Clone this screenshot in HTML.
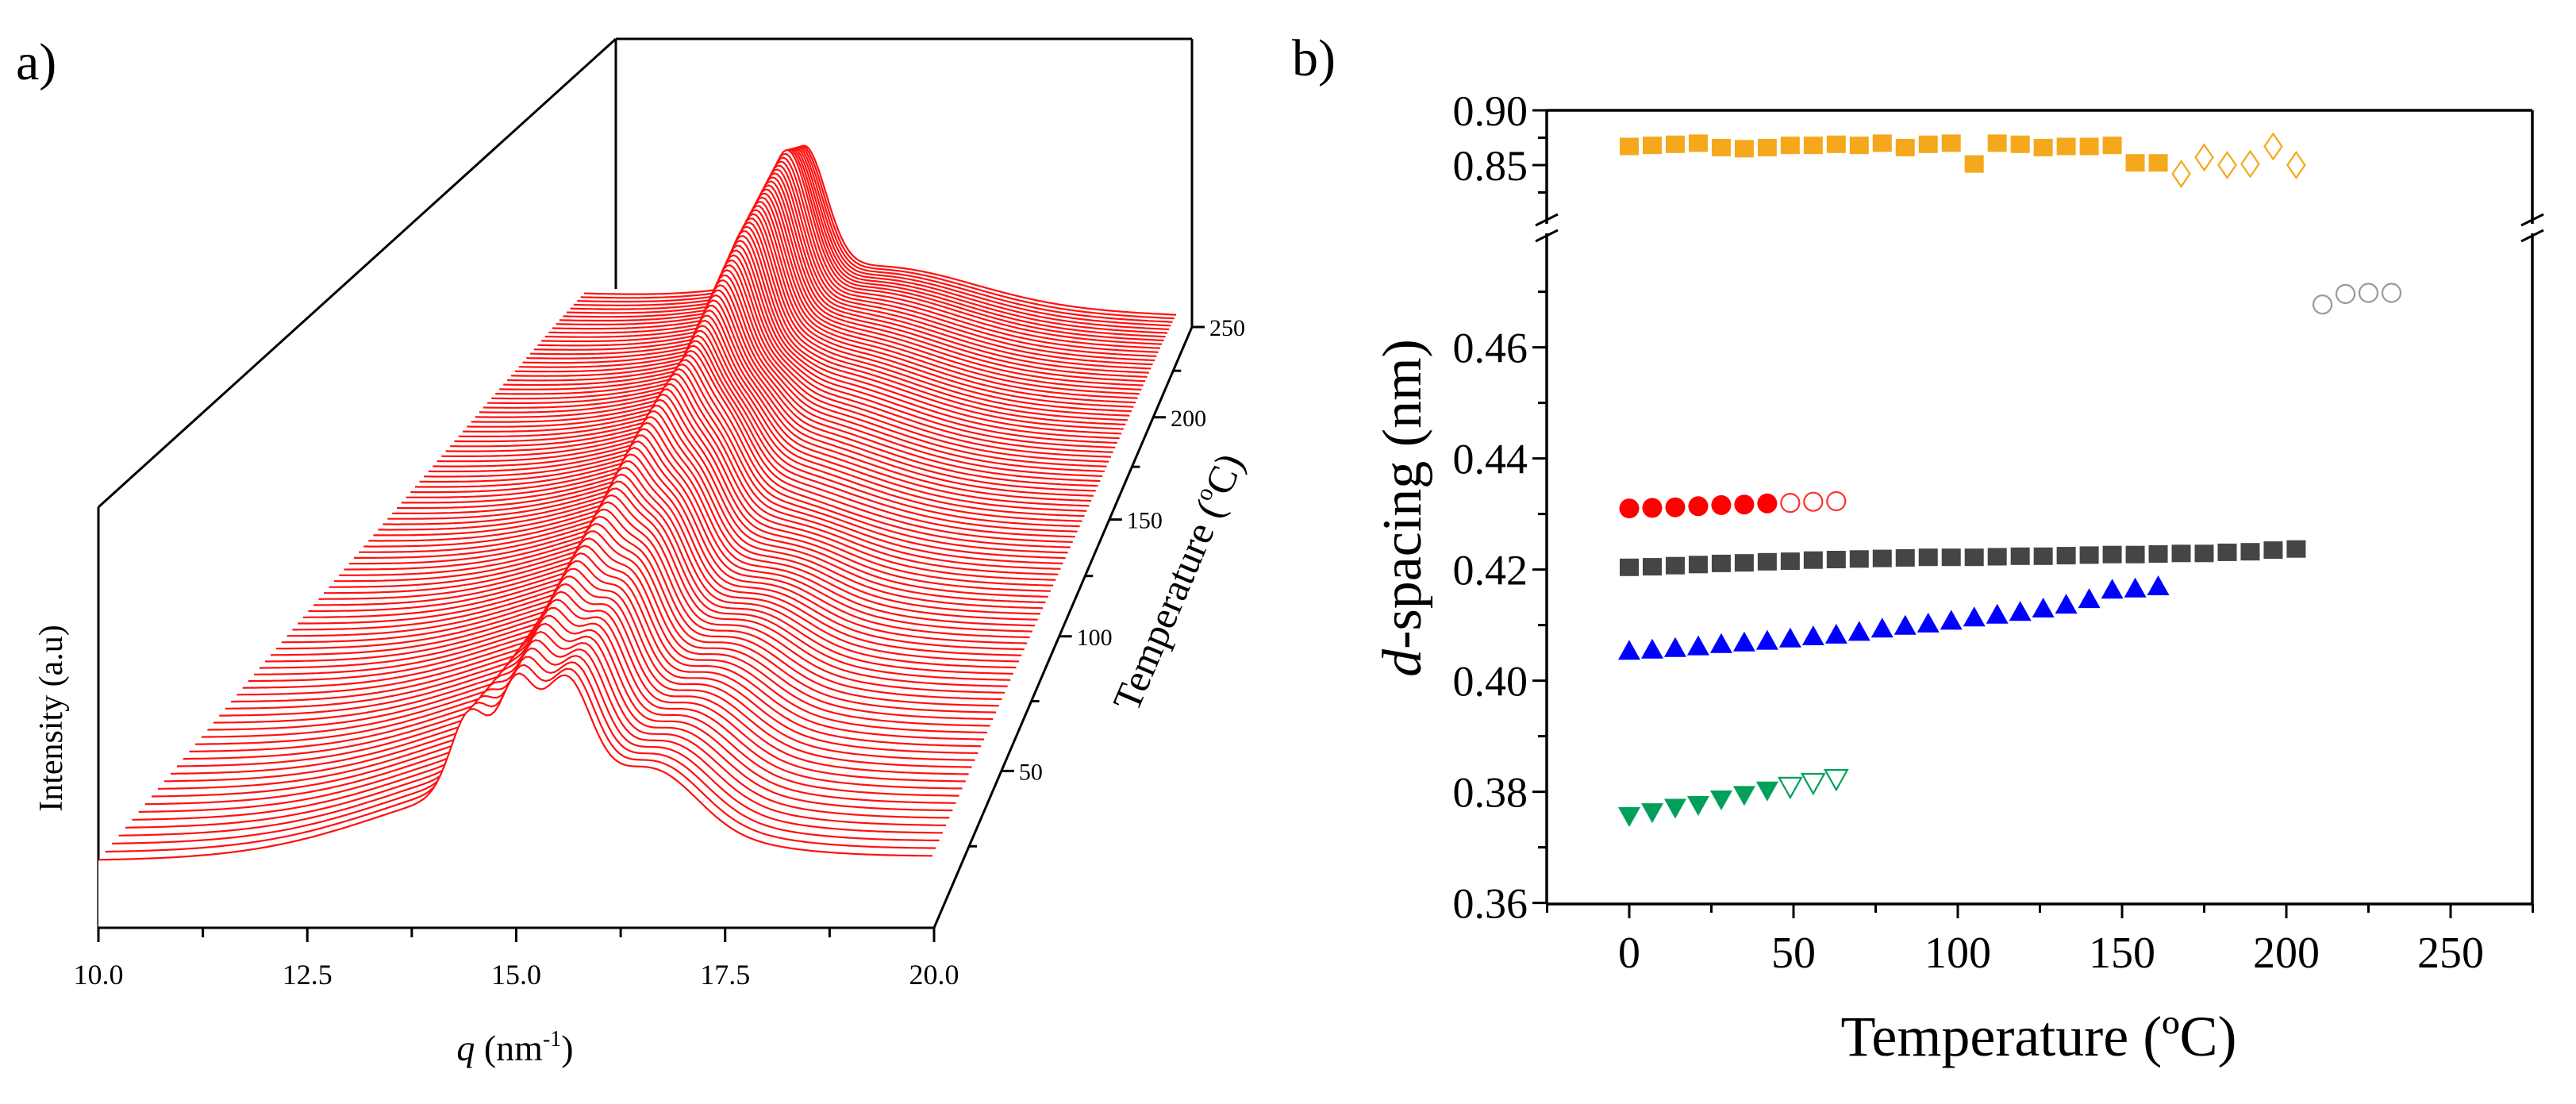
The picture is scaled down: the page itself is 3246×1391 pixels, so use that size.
<!DOCTYPE html>
<html><head><meta charset="utf-8">
<style>
html,body{margin:0;padding:0;background:#fff;}
svg{display:block;font-family:"Liberation Serif",serif;}
</style></head>
<body>
<svg id="fig" width="3246" height="1391" viewBox="0 0 3246 1391" xmlns="http://www.w3.org/2000/svg">
  <rect width="3246" height="1391" fill="#fff"/>
  <!-- Panel a -->
  <g id="panelA">
    <text x="20" y="100" font-size="66">a)</text>
    <g id="boxA" stroke="#000" stroke-width="3" fill="none">
      <line x1="124" y1="639" x2="776" y2="49"/>
      <line x1="776" y1="49" x2="1502" y2="49"/>
      <line x1="776" y1="49" x2="776" y2="364"/>
      <line x1="1502" y1="49" x2="1502" y2="412"/>
      <line x1="124" y1="639" x2="124" y2="1169"/>
    </g>
    <g id="curves"></g>
    <g id="axesA"></g>
    <text x="78" y="905" font-size="42" text-anchor="middle" transform="rotate(-90 78 905)">Intensity (a.u)</text>
    <text x="649" y="1336" font-size="46" text-anchor="middle"><tspan font-style="italic">q</tspan> (nm<tspan font-size="28" dy="-18">-1</tspan><tspan dy="18">)</tspan></text>
    <text x="1500" y="740" font-size="50" text-anchor="middle" transform="rotate(-67 1500 740)">Temperature (<tspan font-size="30" dy="-20">o</tspan><tspan dy="20">C)</tspan></text>
  </g>
  <!-- Panel b -->
  <g id="panelB">
    <text x="1628" y="95" font-size="66">b)</text>
    <g id="axesB"></g>
    <g id="marksB"></g>
    <text x="1790" y="640" font-size="70" text-anchor="middle" transform="rotate(-90 1790 640)"><tspan font-style="italic">d</tspan>-spacing (nm)</text>
    <text x="2569" y="1330" font-size="72" text-anchor="middle">Temperature (ºC)</text>
  </g>
</svg>
<script>
// ===== Panel a data (keyframes) =====
const keyT = [0, 60, 120, 180, 230, 250];
const bgLeft = [85, 78, 65, 50, 35, 25];
const bgRight = [90, 80, 65, 50, 35, 25];
const humpAmp = [90, 95, 100, 100, 90, 80];
const greyCenter = [15.0, 14.8, 14.5, 14.1, 13.8, 13.7];
const greyAmp = [118, 150, 200, 260, 300, 270];
const greySigma = [0.2, 0.25, 0.3, 0.35, 0.38, 0.38];
const blueCenter = [15.6, 15.35, 15.1, 14.9, 14.8, 14.8];
const blueAmp = [140, 120, 90, 20, 0, 0];
const redAmp = [100, 50, 0, 0, 0, 0];
const greenAmp = [60, 35, 0, 0, 0, 0];
const qTicks = ["10.0", "12.5", "15.0", "17.5", "20.0"];
const tTicks = [50, 100, 150, 200, 250];

// ===== Panel b data =====
const tempStep = 7;
const orangeSq = [0.867,0.868,0.869,0.870,0.866,0.865,0.866,0.868,0.868,0.869,0.868,0.870,0.866,0.869,0.870,0.851,0.870,0.869,0.866,0.867,0.867,0.868,0.852,0.852];
const orangeDia = [0.842,0.857,0.850,0.851,0.867,0.850];
const greyOpen = [0.4677,0.4696,0.4698,0.4698];
const greyOpenT = [211, 218, 225, 232];
const redFilled = [0.4310,0.4311,0.4312,0.4314,0.4316,0.4317,0.4319];
const redOpen = [0.4320,0.4322,0.4323];
const greySq = [0.4204,0.4205,0.4207,0.4209,0.4211,0.4212,0.4214,0.4215,0.4217,0.4218,0.4219,0.4220,0.4221,0.4222,0.4222,0.4222,0.4223,0.4224,0.4224,0.4225,0.4226,0.4227,0.4227,0.4228,0.4229,0.4229,0.4231,0.4232,0.4235,0.4237];
const blueTri = [0.4052,0.4054,0.4057,0.4060,0.4064,0.4067,0.4070,0.4074,0.4078,0.4081,0.4086,0.4092,0.4097,0.4101,0.4106,0.4112,0.4117,0.4122,0.4128,0.4135,0.4145,0.4162,0.4164,0.4168];
const greenFilled = [0.3758,0.3765,0.3773,0.3778,0.3788,0.3796,0.3804];
const greenOpen = [0.3811,0.3818,0.3825];
const xTicksB = [0, 50, 100, 150, 200, 250];
const yTicksLow = [0.36, 0.38, 0.40, 0.42, 0.44, 0.46];
const yTicksTop = [0.85, 0.90];

const NS = "http://www.w3.org/2000/svg";
function mk(tag, attrs, parent) {
  const e = document.createElementNS(NS, tag);
  for (const k in attrs) e.setAttribute(k, attrs[k]);
  parent.appendChild(e);
  return e;
}
function lerp(a, b, t) { return a + (b - a) * t; }
function kf(arr, T) {
  for (let i = 0; i < keyT.length - 1; i++) {
    if (T <= keyT[i + 1]) { const t = (T - keyT[i]) / (keyT[i + 1] - keyT[i]); return lerp(arr[i], arr[i + 1], t); }
  }
  return arr[arr.length - 1];
}
function g(q, c, s) { return Math.exp(-0.5 * ((q - c) / s) ** 2); }
function persp(d) { return 1.413 * d / (1 + 0.413 * d); }

// ---- Panel a geometry
function frame(T) {
  const f = persp(T / 250);
  return { xl: lerp(124, 736, f), yl: lerp(1169, 385, f), xr: lerp(1175, 1482, f), yr: lerp(1169, 412, f), s: lerp(1, 0.6, f) };
}
function intensity(q, T) {
  const u = (q - 10) / 10;
  return lerp(kf(bgLeft, T), kf(bgRight, T), u)
    + kf(humpAmp, T) * g(q, 15, 1.6)
    + kf(greyAmp, T) * g(q, kf(greyCenter, T), kf(greySigma, T))
    + kf(blueAmp, T) * g(q, kf(blueCenter, T), 0.3)
    + kf(redAmp, T) * g(q, 14.45, 0.22)
    + kf(greenAmp, T) * g(q, 16.7, 0.5);
}
const curvesG = document.getElementById('curves');
for (let T = 250; T >= 0; T -= 2.5) {
  const fr = frame(T);
  let d = "";
  for (let q = 10; q <= 20.0001; q += 0.05) {
    const u = (q - 10) / 10;
    const x = lerp(fr.xl, fr.xr, u);
    const y = lerp(fr.yl, fr.yr, u) - intensity(q, T) * fr.s;
    d += (d ? "L" : "M") + x.toFixed(1) + "," + y.toFixed(1);
  }
  const fillD = d + "L" + fr.xr.toFixed(1) + "," + (fr.yr + 3).toFixed(1) + "L" + fr.xl.toFixed(1) + "," + (fr.yl + 3).toFixed(1) + "Z";
  const fp = mk('path', { d: fillD, fill: '#fff', stroke: 'none' }, curvesG);
  
  
  const p = mk('path', { d: d, fill: 'none', stroke: '#ff1010', 'stroke-width': 2.2 }, curvesG);
  
  
}
// Panel a axes
const axA = document.getElementById('axesA');
const xAxisA = mk('line', { x1: 124, y1: 1169, x2: 1177, y2: 1169, stroke: '#000', 'stroke-width': 3 }, axA);


for (let i = 0; i <= 8; i++) {
  const x = 124 + i * (1177 - 124) / 8;
  const t = mk('line', { x1: x, y1: 1169, x2: x, y2: 1169 + (i % 2 ? 12 : 18), stroke: '#000', 'stroke-width': 3 }, axA);
  
  
}
qTicks.forEach((lab, i) => {
  const x = 124 + i * (1177 - 124) / 4;
  const t = mk('text', { x: x, y: 1240, 'font-size': 36, 'text-anchor': 'middle' }, axA);
  t.textContent = lab;
  
  
});
const tAxis = mk('line', { x1: 1177, y1: 1169, x2: 1502, y2: 412, stroke: '#000', 'stroke-width': 3 }, axA);


function tPos(T) { const f = persp(T / 250); return [lerp(1177, 1502, f), lerp(1169, 412, f)]; }
for (let T = 25; T <= 250; T += 25) {
  const [x, y] = tPos(T);
  const t = mk('line', { x1: x, y1: y, x2: x + (T % 50 ? 10 : 16), y2: y, stroke: '#000', 'stroke-width': 3 }, axA);
  
  
}
tTicks.forEach(T => {
  const [x, y] = tPos(T);
  const t = mk('text', { x: x + 22, y: y + 11, 'font-size': 30 }, axA);
  t.textContent = T;
  
  
});

// ---- Panel b
const L = 1949, R = 3191, TOP = 139, BOT = 1139, BRK = 288;
function xS(T) { return 2053 + T * 4.14; }
function yS(v) { return v > 0.6 ? 139 + (0.90 - v) * 1380 : 437.6 - (v - 0.46) * 7000; }
const axB = document.getElementById('axesB');
function ln(x1, y1, x2, y2, name, w) {
  const e = mk('line', { x1, y1, x2, y2, stroke: '#000', 'stroke-width': w || 3.5 }, axB);
  
  
  return e;
}
ln(L, TOP, R, TOP, 'top-frame');
ln(L, BOT, R, BOT, 'x-axis');
ln(L, TOP, L, BRK - 6, 'y-axis-upper');
ln(L, BRK + 6, L, BOT, 'y-axis-lower');
ln(R, TOP, R, BRK - 6, 'right-frame-upper');
ln(R, BRK + 6, R, BOT, 'right-frame-lower');
[L, R].forEach(x => {
  ln(x - 14, BRK - 4, x + 14, BRK - 18, 'axis-break-mark', 3);
  ln(x - 14, BRK + 16, x + 14, BRK + 2, 'axis-break-mark', 3);
});
for (let T = -25; T <= 275; T += 25) {
  ln(xS(T), BOT, xS(T), BOT + (T % 50 ? 11 : 18), 'x-tick', 3);
}
xTicksB.forEach(T => {
  const t = mk('text', { x: xS(T), y: BOT + 80, 'font-size': 56, 'text-anchor': 'middle' }, axB);
  t.textContent = T;
  
  
});
for (let k = 0; k <= 11; k++) {
  const v = 0.36 + k * 0.01;
  ln(L - (k % 2 ? 11 : 18), yS(v), L, yS(v), 'y-tick', 3);
}
[0.825, 0.85, 0.875, 0.90].forEach((v, i) => ln(L - (i % 2 ? 18 : 11), yS(v), L, yS(v), 'y-tick', 3));
yTicksLow.concat(yTicksTop).forEach(v => {
  const t = mk('text', { x: L - 24, y: yS(v) + 19, 'font-size': 54, 'text-anchor': 'end' }, axB);
  t.textContent = v.toFixed(2);
  
  
});

const mG = document.getElementById('marksB');
function marker(shape, x, y, color, filled, name) {
  const r = 12.5;
  let e;
  const st = filled ? { fill: color, stroke: 'none' } : { fill: 'none', stroke: color, 'stroke-width': 2.2 };
  if (shape === 'sq') e = mk('rect', Object.assign({ x: x - 12, y: y - 11, width: 24, height: 22 }, st), mG);
  else if (shape === 'circ') e = mk('circle', Object.assign({ cx: x, cy: y, r: filled ? 12.5 : 11.5 }, st), mG);
  else if (shape === 'up') e = mk('polygon', Object.assign({ points: `${x},${y - 15} ${x + 14},${y + 10} ${x - 14},${y + 10}` }, st), mG);
  else if (shape === 'down') e = mk('polygon', Object.assign({ points: `${x},${y + 15} ${x + 14},${y - 10} ${x - 14},${y - 10}` }, st), mG);
  else if (shape === 'dia') e = mk('polygon', Object.assign({ points: `${x},${y - 16} ${x + 11},${y} ${x},${y + 16} ${x - 11},${y}` }, st), mG);
  
  
}
orangeSq.forEach((v, i) => marker('sq', xS(i * tempStep), yS(v), '#f5a81c', true, 'orange-square-point'));
orangeDia.forEach((v, i) => marker('dia', xS((orangeSq.length + i) * tempStep), yS(v), '#f5a81c', false, 'orange-diamond-point'));
greyOpen.forEach((v, i) => marker('circ', xS(greyOpenT[i]), yS(v), '#999', false, 'grey-open-circle-point'));
redFilled.forEach((v, i) => marker('circ', xS(i * tempStep), yS(v), '#ff0000', true, 'red-circle-point'));
redOpen.forEach((v, i) => marker('circ', xS((redFilled.length + i) * tempStep), yS(v), '#ff3030', false, 'red-open-circle-point'));
greySq.forEach((v, i) => marker('sq', xS(i * tempStep), yS(v), '#454545', true, 'grey-square-point'));
blueTri.forEach((v, i) => marker('up', xS(i * tempStep), yS(v), '#0000ff', true, 'blue-triangle-point'));
greenFilled.forEach((v, i) => marker('down', xS(i * tempStep), yS(v), '#00a05a', true, 'green-triangle-point'));
greenOpen.forEach((v, i) => marker('down', xS((greenFilled.length + i) * tempStep), yS(v), '#00a05a', false, 'green-open-triangle-point'));
</script>
</body></html>
